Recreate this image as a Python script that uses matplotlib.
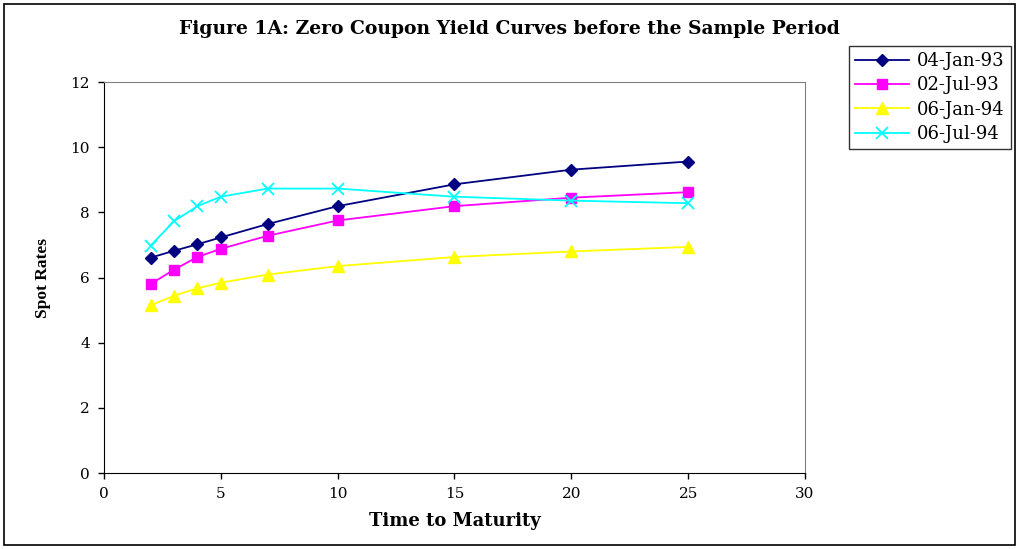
import matplotlib
matplotlib.use("Agg")
import matplotlib.pyplot as plt
from matplotlib.patches import Rectangle

maturity = [2, 3, 4, 5, 7, 10, 15, 20, 25]
jan93 = [6.61, 6.82, 7.02, 7.23, 7.64, 8.19, 8.86, 9.31, 9.56]
jul93 = [5.80, 6.24, 6.63, 6.88, 7.28, 7.75, 8.19, 8.45, 8.62]
jan94 = [5.15, 5.44, 5.67, 5.84, 6.09, 6.35, 6.63, 6.80, 6.94]
jul94 = [6.98, 7.73, 8.19, 8.48, 8.73, 8.73, 8.48, 8.36, 8.28]
labels = ["04-Jan-93", "02-Jul-93", "06-Jan-94", "06-Jul-94"]

plt.rcParams['font.family'] = ['DejaVu Serif']

fig = plt.figure(figsize=(10.19, 5.49), dpi=100)
ax = fig.add_axes([0.102, 0.1384, 0.688, 0.7122])

ax.plot(maturity, jan93, color='#000080', lw=1.3, marker='D', ms=6, label=labels[0])
ax.plot(maturity, jul93, color='#FF00FF', lw=1.3, marker='s', ms=7, label=labels[1])
ax.plot(maturity, jan94, color='#FFFF00', lw=1.3, marker='^', ms=8, label=labels[2])
ax.plot(maturity, jul94, color='#00FFFF', lw=1.3, marker='x', ms=8, mew=1.3, label=labels[3])

ax.set_xlim(0, 30)
ax.set_ylim(0, 12)
ax.set_xticks(range(0, 31, 5))
ax.set_yticks(range(0, 13, 2))
ax.tick_params(direction='out', length=4, labelsize=11, width=1, pad=6)
for s in ['top', 'right']:
    ax.spines[s].set_color('#808080')
for s in ['left', 'bottom']:
    ax.spines[s].set_color('black')

ax.set_xlabel('Time to Maturity', fontsize=13, fontweight='bold', labelpad=8)
ax.set_ylabel('Spot Rates', fontsize=12.5, fontweight='bold', labelpad=14,
              family=['Liberation Serif'])

fig.text(0.5, 0.948, 'Figure 1A: Zero Coupon Yield Curves before the Sample Period',
         ha='center', va='center', fontsize=13.5, fontweight='bold')

leg = ax.legend(loc='upper left', bbox_to_anchor=(0.824, 0.933), bbox_transform=fig.transFigure,
                fontsize=13, frameon=True, fancybox=False, edgecolor='black',
                handlelength=3.0, borderpad=0.35, labelspacing=0.35, handletextpad=0.45)
leg.get_frame().set_linewidth(1.0)

fig.patches.append(Rectangle((0.004, 0.007), 0.992, 0.986, transform=fig.transFigure,
                             fill=False, edgecolor='black', lw=1.2))

fig.savefig('out.png', dpi=100)
